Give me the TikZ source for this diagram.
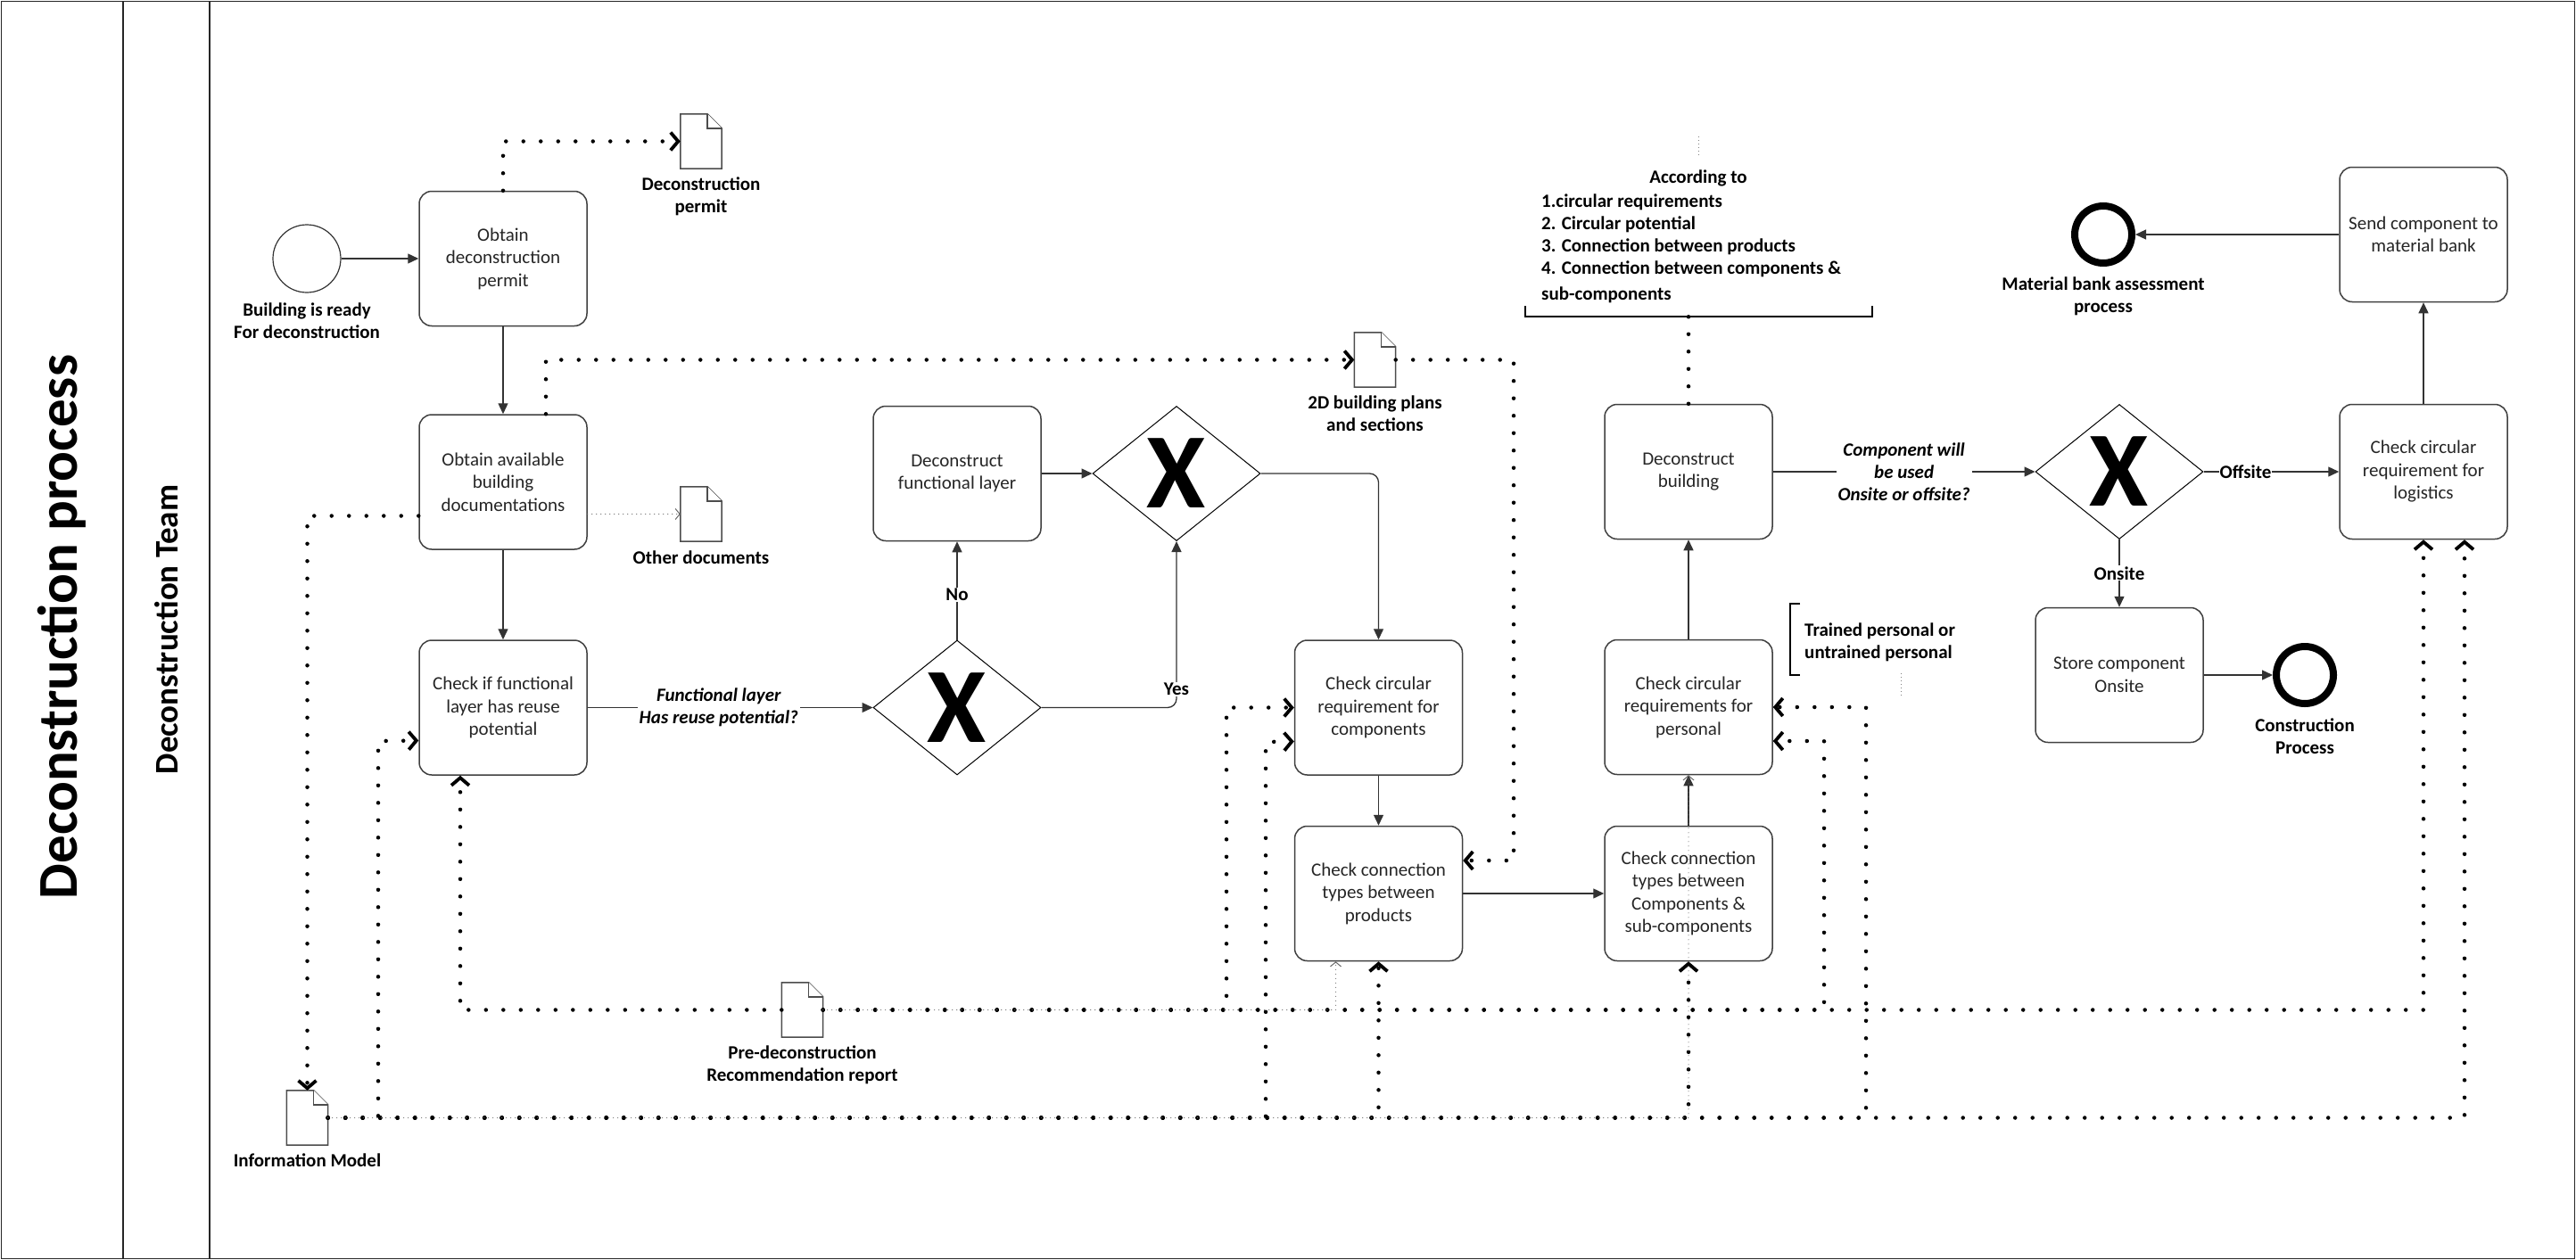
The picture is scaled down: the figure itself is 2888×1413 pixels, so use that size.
\documentclass[tikz,border=0pt]{standalone}
\usepackage{fontspec}
\setmainfont{Carlito}
\usepackage{tikz}
\usetikzlibrary{arrows.meta}
\usetikzlibrary{shapes.geometric}
\usetikzlibrary{positioning}

\newcommand{\taskfont}{\fontsize{21}{25.5}\selectfont}
\newcommand{\lblfont}{\fontsize{21}{25}\selectfont\bfseries}

% data object: a sheet with a folded corner
\newcommand{\docfile}[2]{%
  \node[docbox] (#1) at (#2) {};
  \draw[docline] (#1.south west) -- (#1.north west) -- ([xshift=-16pt]#1.north east)
    -- ([yshift=-16pt]#1.north east) -- (#1.south east) -- cycle;
  \draw[docline] ([xshift=-16pt]#1.north east) |- ([yshift=-16pt]#1.north east);
}

\tikzset{
  frame/.style={draw=black!85, line width=1.5pt},
  task/.style={draw=black!75, line width=1.5pt, fill=white, rounded corners=14pt,
    minimum width=188pt, minimum height=151pt, inner sep=2pt, align=center,
    text=black!85, font=\taskfont},
  gateway/.style={diamond, draw=black, line width=1pt, fill=white, minimum width=188pt,
    minimum height=151pt, inner sep=0pt, font=\fontsize{120}{120}\selectfont\bfseries},
  startev/.style={circle, draw=black!80, line width=1.2pt, minimum size=76pt, inner sep=0pt},
  endev/.style={circle, draw=black, line width=8pt, minimum size=64pt, inner sep=0pt, outer sep=4pt},
  docbox/.style={minimum width=46pt, minimum height=61pt, inner sep=0pt},
  docline/.style={draw=black!70, line width=1.5pt, fill=white},
  lbl/.style={font=\lblfont, align=center, inner sep=1pt},
  qlbl/.style={font=\fontsize{21}{25}\selectfont\bfseries\itshape, align=center, inner sep=2pt, fill=white},
  flow/.style={draw=black!80, line width=1.3pt, -{Triangle[length=12pt,width=11pt]}},
  assoc/.style={line width=4.5pt, line cap=round, dash pattern=on 0pt off 19.5pt,
    -{Straight Barb[length=8.5pt,width=20pt,line width=3.8pt 0]}},
  thinassoc/.style={draw=black!60, line width=1.1pt, line cap=round, dash pattern=on 0pt off 5pt,
    -{Straight Barb[length=5pt,width=12pt,line width=1pt 0]}},
  faint/.style={draw=black!50, line width=1pt, dash pattern=on 1pt off 3pt},
  bracketline/.style={draw=black, line width=2pt},
}

\begin{document}
\begin{tikzpicture}[x=1pt,y=-1pt]
    \useasboundingbox (0,0) rectangle (2888,1413);
    % Draw the pool and the lane
    \draw[frame] (1.5,1.5) rectangle (2886.5,1411.5);
    \draw[frame] (138,1.5) -- (138,1411.5);
    \draw[frame] (235,1.5) -- (235,1411.5);
    \node[rotate=90, font=\fontsize{63}{70}\selectfont\bfseries] (pool) at (69,703) {Deconstruction process};
    \node[rotate=90, font=\fontsize{37}{42}\selectfont\bfseries] (lane) at (187,706) {Deconstruction Team};
    % Draw the events
    \node[startev] (ready) at (344,290) {};
    \node[endev] (matbank) at (2358,263) {};
    \node[endev] (constr) at (2584,757) {};
    \node[lbl, below=10pt of ready] (readylbl) {Building is ready\\For deconstruction};
    \node[lbl, below=11pt of matbank] (matbanklbl) {Material bank assessment\\process};
    \node[lbl, below=12pt of constr] (constrlbl) {Construction\\Process};
    % Draw the tasks
    \node[task] (obtainpermit) at (564,290) {Obtain\\deconstruction\\permit};
    \node[task] (obtaindocs) at (564,540.5) {Obtain available\\building\\documentations};
    \node[task] (checkreuse) at (564,793.5) {Check if functional\\layer has reuse\\potential};
    \node[task] (deconlayer) at (1073,531) {Deconstruct\\functional layer};
    \node[task] (checkcomp) at (1545.5,793.5) {Check circular\\requirement for\\components};
    \node[task] (checkprod) at (1545.5,1002) {Check connection\\types between\\products};
    \node[task] (checksub) at (1893,1002) {Check connection\\types between\\Components \&\\sub-components};
    \node[task] (checkpers) at (1893,793) {Check circular\\requirements for\\personal};
    \node[task] (deconbld) at (1893,529) {Deconstruct\\building};
    \node[task] (checklog) at (2717,529) {Check circular\\requirement for\\logistics};
    \node[task] (sendbank) at (2717,263) {Send component to\\material bank};
    \node[task] (storesite) at (2376,757) {Store component\\Onsite};
    % Draw the gateways
    \node[gateway] (gwreuse) at (1073,793.5) {X};
    \node[gateway] (gwlayer) at (1319,531) {X};
    \node[gateway] (gwsite) at (2376,529) {X};
    % Draw the data objects
    \docfile{permitdoc}{786,158.5}
    \docfile{otherdoc}{786,576.5}
    \docfile{plans}{1541.5,403.5}
    \docfile{infodoc}{344.5,1253.5}
    \docfile{predoc}{899.5,1132.5}
    \node[lbl, below=8pt of permitdoc] (permitlbl) {Deconstruction\\permit};
    \node[lbl, below=9pt of otherdoc] (otherlbl) {Other documents};
    \node[lbl, below=8pt of plans] (planslbl) {2D building plans\\and sections};
    \node[lbl, below=8pt of infodoc] (infolbl) {Information Model};
    \node[lbl, below=8pt of predoc] (predoclbl) {Pre-deconstruction\\Recommendation report};
    % Draw the text annotations
    \node[lbl] (accto) at (1904,200) {According to};
    \node[lbl, align=left, anchor=west] (acclist) at (1727,279) {1.circular requirements\\2. Circular potential\\3. Connection between products\\4. Connection between components \&\\[4pt]sub-components};
    \draw[bracketline] (1710,343) -- (1710,355) -- (2099,355) -- (2099,343);
    \coordinate (accbase) at (1893,355);
    \node[lbl, align=left, anchor=west] (trained) at (2022,720) {Trained personal or\\untrained personal};
    \draw[bracketline] (2018,677) -- (2007,677) -- (2007,757) -- (2018,757);
    \draw[faint] (1904,153) -- (1904,176);
    \draw[faint] (2131,755) -- (2131,781);
    % Draw the sequence flows
    \draw[flow] (ready) -- (obtainpermit);
    \draw[flow] (obtainpermit) -- (obtaindocs);
    \draw[flow] (obtaindocs) -- (checkreuse);
    \draw[flow] (checkreuse) -- node[qlbl, pos=0.46] (qreuse) {Functional layer\\Has reuse potential?} (gwreuse);
    \draw[flow] (gwreuse) -- node[lbl, fill=white, pos=0.46] (nolbl) {No} (deconlayer);
    \draw[flow] (deconlayer) -- (gwlayer);
    \draw[flow, rounded corners=10pt] (gwreuse.east) -| node[lbl, fill=white, pos=0.555] (yeslbl) {Yes} (gwlayer.south);
    \draw[flow, rounded corners=10pt] (gwlayer.east) -| (checkcomp.north);
    \draw[flow] (checkcomp) -- (checkprod);
    \draw[flow] (checkprod) -- (checksub);
    \draw[flow] (checksub) -- (checkpers);
    \draw[flow] (checkpers) -- (deconbld);
    \draw[flow] (deconbld) -- node[qlbl] (qsite) {Component will\\be used\\Onsite or offsite?} (gwsite);
    \draw[flow] (gwsite) -- node[lbl, fill=white, pos=0.31] (offlbl) {Offsite} (checklog);
    \draw[flow] (gwsite) -- node[lbl, fill=white] (onlbl) {Onsite} (storesite);
    \draw[flow] (storesite) -- (constr);
    \draw[flow] (checklog) -- (sendbank);
    \draw[flow] (sendbank) -- (matbank);
    % Draw the data associations
    \draw[assoc] (obtainpermit.north) |- (permitdoc.west);
    \draw[assoc] ([xshift=48pt]obtaindocs.north) |- (plans.west);
    \draw[assoc] (plans.east) -| (1697,965) -- ([yshift=37pt]checkprod.east);
    \draw[thinassoc] (obtaindocs.east |- otherdoc.west) -- (otherdoc.west);
    \draw[assoc] ([yshift=-38pt]obtaindocs.west) -| (infodoc.north);
    \draw[assoc, -] (deconbld.north) -- (accbase);
    % information model to the tasks
    \draw[assoc] (infodoc.east) -| (424,831) -- ([yshift=-37pt]checkreuse.west);
    \draw[assoc] (infodoc.east) -| (1419,832) -- ([yshift=-38pt]checkcomp.west);
    \draw[assoc] (infodoc.east) -| (checkprod.south);
    \draw[assoc] (infodoc.east) -| (checksub.south);
    \draw[assoc] (infodoc.east) -| (2092,793) -- (checkpers.east);
    \draw[assoc] (infodoc.east) -| ([xshift=46pt]checklog.south);
    \draw[thinassoc] (infodoc.east) -| (checkpers.south);
    % recommendation report to the tasks
    \draw[assoc] (predoc.west) -| ([xshift=-48pt]checkreuse.south);
    \draw[assoc] (predoc.east) -| (1375,793.5) -- (checkcomp.west);
    \draw[assoc] (predoc.east) -| (2045,831) -- ([yshift=-38pt]checkpers.east);
    \draw[assoc] (predoc.east) -| (checklog.south);
    \draw[thinassoc] (predoc.east) -| ([xshift=-48pt]checkprod.south);
\end{tikzpicture}
\end{document}
